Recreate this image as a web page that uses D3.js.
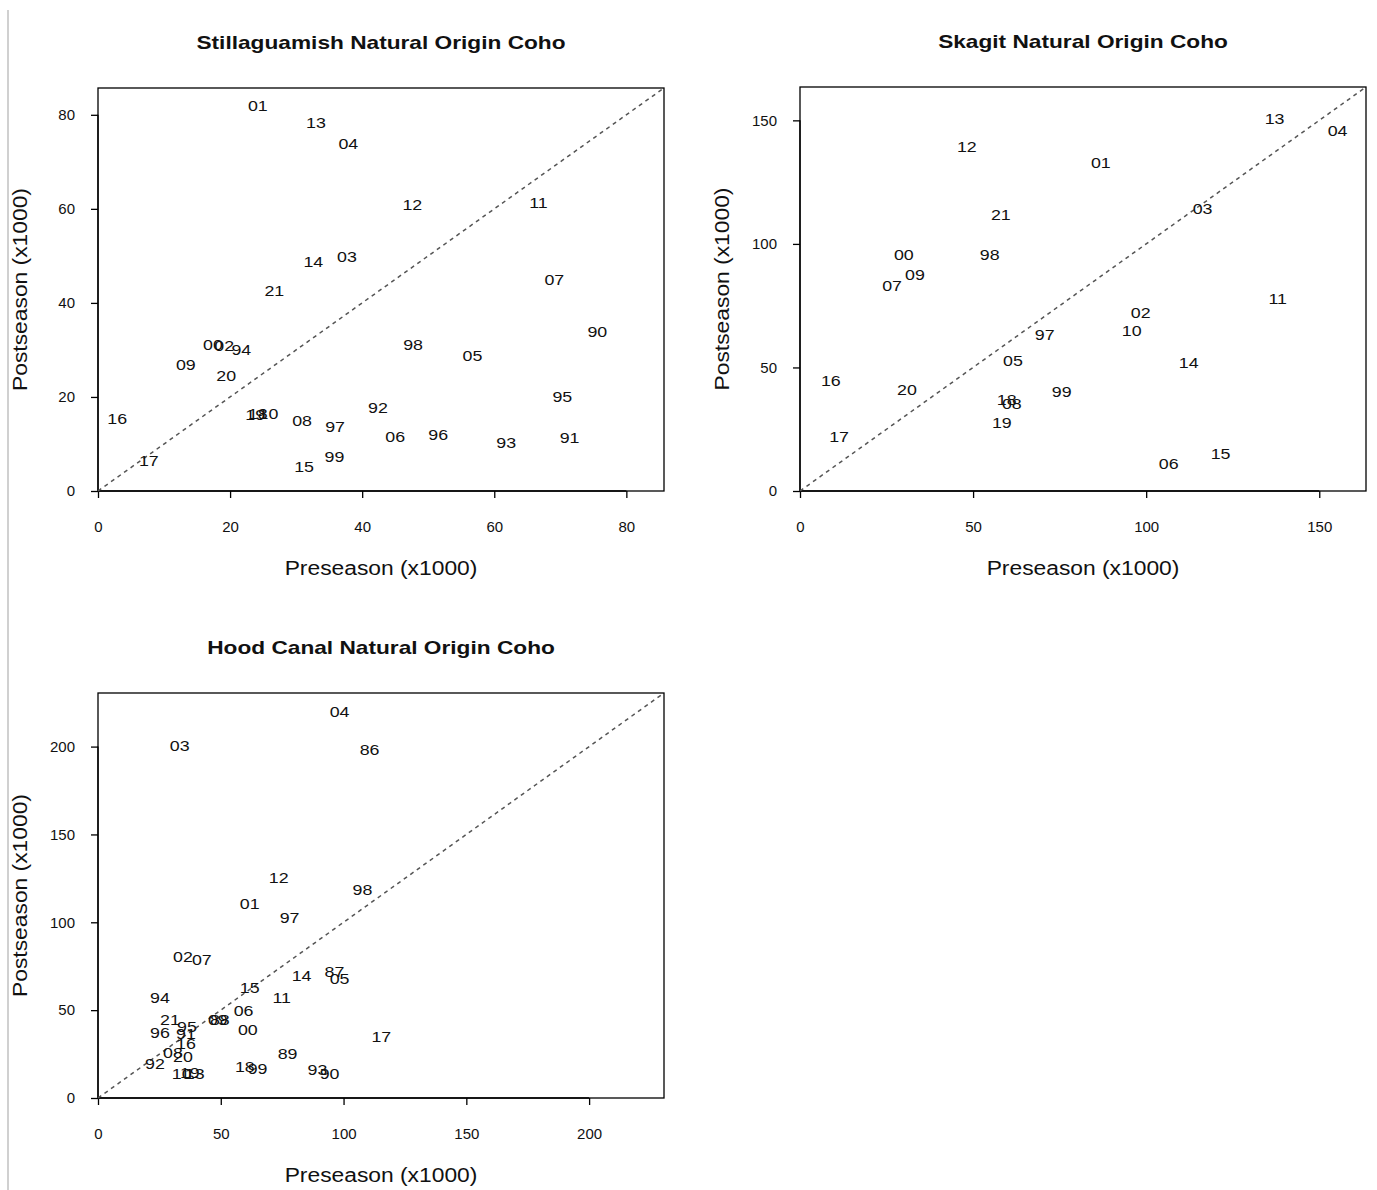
<!DOCTYPE html>
<html><head><meta charset="utf-8">
<script src="https://cdn.jsdelivr.net/npm/d3@7"></script>
<style>body{margin:0;background:#fff}svg{display:block}text{font-family:"Liberation Sans",Arial,sans-serif}</style>
</head><body>
<script>
// Stillaguamish
const stillYears = ["01","13","04","12","11","14","03","07","21","90","98","05","00","02","94","09","20","95","92","19","18","10","08","97","06","96","93","91","16","17","15","99"];
const stillPre  = [24.2,33.0,37.9,47.6,66.7,32.6,37.7,69.1,26.7,75.6,47.7,56.7,17.4,19.1,21.7,13.3,19.4,70.3,42.4,23.8,24.2,25.8,30.9,35.9,45.0,51.5,61.8,71.4,2.9,7.7,31.2,35.8];
const stillPost = [82.1,78.3,74.0,60.9,61.3,48.9,49.8,45.1,42.6,34.0,31.1,28.9,31.1,30.9,30.2,27.0,24.5,20.2,17.7,16.2,16.4,16.6,15.1,13.8,11.7,12.1,10.4,11.3,15.5,6.6,5.3,7.4];
// Skagit
const skagitYears = ["13","04","12","01","21","03","00","98","09","07","11","02","97","10","05","14","16","20","99","18","08","19","17","06","15"];
const skagitPre  = [137.1,155.3,48.2,86.9,58.0,116.3,30.0,54.8,33.2,26.6,138.0,98.4,70.7,95.8,61.5,112.3,8.9,30.9,75.6,59.7,61.2,58.3,11.3,106.5,121.5];
const skagitPost = [150.8,145.9,139.4,133.0,111.9,114.3,95.7,95.7,87.6,83.1,77.8,72.2,63.2,64.9,52.7,51.9,44.6,41.3,40.5,36.9,35.3,27.6,21.9,11.3,15.4];
// Hood Canal
const hoodYears = ["04","03","86","12","98","01","97","02","07","14","87","05","15","94","11","06","21","96","95","91","16","08","20","92","10","13","19","09","88","00","18","99","89","93","90","17"];
const hoodPre  = [98.4,33.3,110.6,73.6,107.7,61.8,78.0,34.6,42.3,82.9,96.3,98.4,61.8,25.2,74.8,59.3,29.3,25.2,36.2,35.8,35.8,30.5,34.6,23.2,34.1,39.4,37.4,48.8,49.6,61.0,59.8,65.0,77.2,89.4,94.3,115.4];
const hoodPost = [219.9,200.6,198.3,125.4,118.5,110.5,102.6,80.3,78.6,69.5,71.8,67.8,63.2,57.0,57.0,49.6,45.0,37.6,41.0,37.0,30.8,26.2,23.9,19.9,14.2,14.2,14.8,45.0,45.0,39.3,18.2,17.1,25.6,16.4,14.2,35.3];

const stillTicks = [0,20,40,60,80];
const skagitTicks = [0,50,100,150];
const hoodTicks = [0,50,100,150,200];

const svg = d3.select("body").append("svg").attr("width",1377).attr("height",1190);
svg.append("line").attr("x1",8).attr("x2",8).attr("y1",10).attr("y2",1190).attr("stroke","#d0d0d0").attr("stroke-width",2);

function stext(g,x,y,txt,size,sx,weight,rot){
  const t = g.append("text")
    .attr("transform",`translate(${x},${y})${rot?" rotate(-90)":""} scale(${sx},1)`)
    .attr("text-anchor","middle").attr("dy","0.36em").attr("font-size",size).attr("fill","#111").text(txt);
  if(weight) t.attr("font-weight",weight);
  return t;
}

function panel(opt){
  const {x0,x1,y0,y1,max,ticks,title,years,pre,post} = opt;
  const x = d3.scaleLinear().domain([0,max]).range([x0,x1]);
  const y = d3.scaleLinear().domain([0,max]).range([y1,y0]);
  const g = svg.append("g");
  const xa = g.append("g").attr("transform",`translate(0,${y1})`).call(d3.axisBottom(x).tickValues(ticks).tickSize(7).tickPadding(22).tickFormat(d3.format("d")));
  const ya = g.append("g").attr("transform",`translate(${x0},0)`).call(d3.axisLeft(y).tickValues(ticks).tickSize(7).tickPadding(16).tickFormat(d3.format("d")));
  [xa,ya].forEach(a=>{
    a.select(".domain").remove();
    a.selectAll(".tick line").attr("stroke","#000").attr("stroke-width",1.3);
    a.selectAll("text").attr("font-size",15).attr("fill","#111");
  });
  xa.selectAll("text").attr("dy","0.36em").attr("y",36);
  g.append("line").attr("x1",x(ticks[0])).attr("x2",x(ticks[ticks.length-1])).attr("y1",y1).attr("y2",y1).attr("stroke","#000").attr("stroke-width",1.3);
  g.append("line").attr("y1",y(ticks[0])).attr("y2",y(ticks[ticks.length-1])).attr("x1",x0).attr("x2",x0).attr("stroke","#000").attr("stroke-width",1.3);
  g.append("rect").attr("x",x0).attr("y",y0).attr("width",x1-x0).attr("height",y1-y0).attr("fill","none").attr("stroke","#000").attr("stroke-width",1.3);
  g.append("line").attr("x1",x(0)).attr("y1",y(0)).attr("x2",x(max)).attr("y2",y(max)).attr("stroke","#555").attr("stroke-width",1.5).attr("stroke-dasharray","4,4");
  years.forEach((d,i)=> stext(g, x(pre[i]), y(post[i]), d, 15.5, 1.15));
  const cx=(x0+x1)/2;
  stext(g,cx,y0-45,title,18,1.26,"bold");
  stext(g,cx,y1+77,"Preseason (x1000)",19.5,1.17);
  stext(g,x0-78,(y0+y1)/2,"Postseason (x1000)",19.5,1.17,null,true);
}
panel({x0:98,x1:664,y0:88,y1:491,max:85.7,ticks:stillTicks,title:"Stillaguamish Natural Origin Coho",years:stillYears,pre:stillPre,post:stillPost});
panel({x0:800,x1:1366,y0:87,y1:491,max:163.5,ticks:skagitTicks,title:"Skagit Natural Origin Coho",years:skagitYears,pre:skagitPre,post:skagitPost});
panel({x0:98,x1:664,y0:693,y1:1098,max:230.5,ticks:hoodTicks,title:"Hood Canal Natural Origin Coho",years:hoodYears,pre:hoodPre,post:hoodPost});
</script>
</body></html>
